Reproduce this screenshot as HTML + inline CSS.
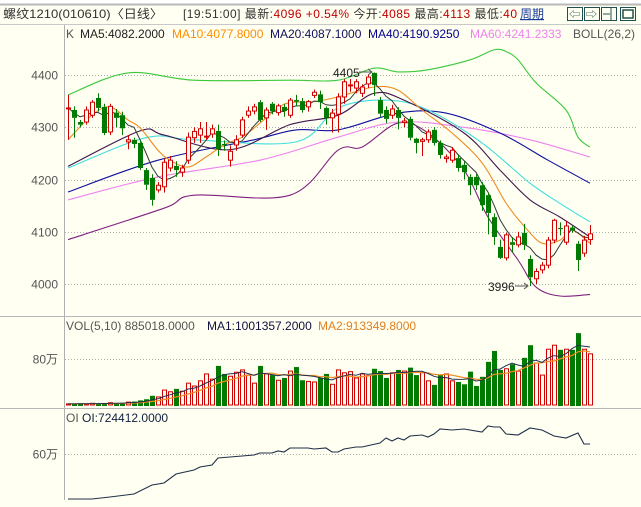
<!DOCTYPE html>
<html><head><meta charset="utf-8">
<style>
html,body{margin:0;padding:0;background:#fffff2;}
svg{display:block;font-family:"Liberation Sans","Noto Sans CJK SC",sans-serif;}
</style></head>
<body>
<svg id="chart" width="641" height="507" viewBox="0 0 641 507" xmlns="http://www.w3.org/2000/svg">
<rect x="0" y="0" width="641" height="507" fill="#fffff2"/>
<rect x="0" y="0" width="641" height="5" fill="#fff"/>
<line x1="0" y1="4.5" x2="641" y2="4.5" stroke="#b8b8b8" stroke-width="2"/>
<g font-size="12">
<text x="3" y="18" fill="#333" textLength="160" lengthAdjust="spacingAndGlyphs">螺纹1210(010610)〈日线〉</text>
<text x="183" y="18" fill="#333" textLength="334" lengthAdjust="spacing">[19:51:00] 最新:<tspan fill="#c00000">4096</tspan> <tspan fill="#c00000">+0.54%</tspan> 今开:<tspan fill="#c00000">4085</tspan> 最高:<tspan fill="#c00000">4113</tspan> 最低:<tspan fill="#c00000">40</tspan></text>
<text x="520" y="18" fill="#1a3a9a" text-decoration="underline">周期</text>
<g><rect x="567.5" y="7.5" width="15" height="13" fill="none" stroke="#205050"/><text x="569" y="18" font-size="11" fill="#205050">⇦</text></g>
<g><rect x="584.5" y="7.5" width="15" height="13" fill="none" stroke="#205050"/><text x="586" y="18" font-size="11" fill="#205050">⇨</text></g>
<g><rect x="601.5" y="7.5" width="15" height="13" fill="none" stroke="#205050"/><line x1="603" y1="14" x2="610" y2="14" stroke="#205050"/><line x1="611" y1="8" x2="611" y2="20" stroke="#205050"/></g>
<g><rect x="620.5" y="7.5" width="15" height="13" fill="none" stroke="#205050"/><rect x="623" y="10" width="10" height="8" fill="none" stroke="#205050" stroke-width="1.5"/></g>
</g>
<line x1="0" y1="24.5" x2="641" y2="24.5" stroke="#c8c8c8"/>
<line x1="64.5" y1="25" x2="64.5" y2="500" stroke="#b0b0b0"/>
<line x1="0" y1="316.5" x2="641" y2="316.5" stroke="#b8b8b8"/>
<line x1="0" y1="408.5" x2="641" y2="408.5" stroke="#b8b8b8"/>
<g font-size="12">
<text x="66" y="38" fill="#555">K</text>
<text x="80" y="38" fill="#222">MA5:4082.2000</text>
<text x="172" y="38" fill="#ff8c00">MA10:4077.8000</text>
<text x="270" y="38" fill="#101060">MA20:4087.1000</text>
<text x="368" y="38" fill="#00008b">MA40:4190.9250</text>
<text x="470" y="38" fill="#ee82ee">MA60:4241.2333</text>
<text x="573" y="38" fill="#555">BOLL(26,2)</text>
</g>
<g font-size="12">
<text x="66" y="330" fill="#555">VOL(5,10) 885018.0000</text>
<text x="207" y="330" fill="#101040">MA1:1001357.2000</text>
<text x="318" y="330" fill="#e08020">MA2:913349.8000</text>
</g>
<g font-size="12">
<text x="66" y="422" fill="#555">OI <tspan fill="#102040">OI:724412.0000</tspan></text>
</g>
<g id="grid"></g>
<g id="bands"></g>
<g id="candles"></g>
<g id="vol"></g>
<g id="oi"></g>
<g font-size="12" fill="#222">
<text x="333" y="77">4405</text>
<line x1="359" y1="72" x2="371" y2="72" stroke="#555"/><path d="M368,69 L372,72 L368,75" fill="none" stroke="#555"/>
<text x="488" y="291">3996</text>
<line x1="515" y1="286" x2="527" y2="286" stroke="#555"/><path d="M524,283 L528,286 L524,289" fill="none" stroke="#555"/>
</g>
</svg>
<script>
const opens  = [4337,4333,4310,4310,4323,4356,4339,4291,4328,4323,4272,4276,4270,4218,4203,4180,4186,4222,4226,4214,4237,4280,4285,4282,4287,4293,4268,4237,4266,4285,4323,4331,4348,4318,4345,4328,4339,4323,4352,4350,4339,4361,4363,4337,4318,4325,4358,4380,4375,4365,4383,4404,4352,4333,4323,4333,4309,4316,4278,4273,4276,4295,4270,4240,4237,4241,4228,4205,4205,4189,4170,4128,4071,4050,4080,4075,4098,4048,4010,4027,4036,4084,4107,4080,4108,4077,4059,4085];
const closes = [4337,4318,4305,4333,4348,4337,4289,4340,4318,4298,4276,4268,4222,4190,4161,4189,4233,4237,4218,4222,4281,4292,4297,4283,4297,4258,4266,4254,4276,4314,4331,4339,4314,4333,4331,4341,4331,4352,4349,4333,4349,4367,4348,4318,4327,4358,4387,4381,4387,4377,4396,4381,4326,4316,4335,4318,4312,4280,4270,4276,4291,4270,4247,4243,4256,4222,4214,4189,4189,4151,4136,4090,4050,4094,4075,4090,4075,4013,4024,4036,4084,4122,4106,4111,4103,4046,4084,4096];
const highs  = [4362,4340,4314,4340,4352,4365,4345,4345,4335,4330,4285,4280,4275,4222,4210,4195,4240,4245,4235,4228,4290,4300,4310,4310,4305,4305,4275,4265,4285,4320,4340,4345,4352,4338,4348,4345,4345,4356,4362,4356,4352,4372,4370,4340,4335,4365,4392,4392,4392,4382,4400,4405,4358,4340,4343,4338,4318,4320,4280,4280,4296,4300,4275,4248,4262,4248,4235,4210,4210,4195,4175,4135,4085,4098,4090,4100,4115,4055,4030,4042,4090,4125,4118,4120,4112,4082,4092,4113];
const lows   = [4276,4280,4300,4305,4318,4330,4285,4285,4300,4285,4258,4260,4218,4180,4150,4175,4175,4215,4205,4205,4230,4270,4270,4275,4280,4245,4255,4225,4255,4280,4318,4325,4310,4295,4325,4322,4320,4318,4340,4328,4330,4356,4335,4305,4290,4290,4345,4368,4365,4358,4375,4360,4320,4308,4316,4296,4300,4275,4250,4245,4270,4265,4240,4232,4232,4215,4200,4170,4180,4140,4095,4075,4048,4045,4060,4070,4065,3996,4000,4020,4030,4078,4093,4075,4098,4025,4052,4075];
const volumes = [2,2,3,2,3,2,3,4,3,4,5,6,8,10,16,14,26,23,28,24,38,33,42,54,45,68,54,50,57,61,52,38,68,54,52,43,47,59,66,43,41,40,47,54,36,61,56,58,47,54,51,63,59,47,56,61,59,65,52,56,42,35,52,54,42,40,36,58,33,49,75,94,61,63,71,59,82,104,73,52,97,104,96,97,96,125,97,89];
const ma10Pts = [[0,4276],[4,4323],[7,4339],[10,4314],[12,4299],[15,4256],[17,4237],[20,4224],[23,4243],[26,4266],[29,4281],[32,4308],[35,4337],[37,4347],[41,4349],[45,4358],[51,4377],[55,4371],[59,4333],[64,4289],[69,4232],[73,4155],[76,4111],[79,4078],[82,4084],[84,4103],[87,4078]];
const bollMidPts = [[0,4225],[12,4293],[16,4285],[27,4257],[37,4305],[45,4323],[51,4365],[56,4352],[66,4289],[72,4218],[77,4161],[82,4128],[87,4090]];
const ma20Pts = [[0,4222],[13,4280],[21,4276],[38,4272],[45,4337],[53,4352],[60,4333],[69,4270],[77,4193],[83,4147],[87,4119]];
const ma40Pts = [[0,4176],[15,4237],[31,4276],[38,4295],[45,4295],[55,4327],[63,4327],[72,4289],[80,4237],[87,4193]];
const ma60Pts = [[0,4161],[15,4205],[32,4237],[45,4281],[55,4310],[66,4300],[77,4276],[87,4243]];
const bollUpPts = [[0,4362],[10,4404],[21,4390],[37,4390],[45,4390],[51,4413],[55,4406],[60,4410],[67,4429],[71,4448],[73,4445],[75,4429],[78,4385],[83,4333],[85,4281],[87,4262]];
const bollLowPts = [[0,4085],[16,4145],[21,4170],[37,4170],[45,4256],[49,4262],[55,4308],[60,4289],[66,4218],[70,4128],[75,4046],[78,3994],[82,3977],[87,3980]];
const oiPts = [[0,4.0],[4,4.0],[7,6.5],[11,10.2],[14,21.4],[16,23.9],[18,35.1],[21,40.1],[22,43.8],[24,46.3],[25,55.0],[27,56.3],[31,58.8],[32,61.2],[34,61.2],[35,63.7],[36,62.5],[37,67.5],[40,67.5],[41,66.2],[43,67.5],[44,62.5],[45,62.5],[46,66.2],[48,68.7],[49,68.7],[52,73.7],[53,79.9],[54,76.2],[55,79.9],[56,77.4],[57,82.4],[59,83.6],[60,81.1],[61,84.9],[62,91.1],[64,89.9],[66,91.1],[69,87.4],[70,94.8],[71,93.6],[72,93.6],[73,84.9],[75,83.6],[77,92.3],[79,89.9],[81,82.4],[83,79.9],[85,86.1],[86,72.4],[87,72.4]];
const priceTicks = [4400,4300,4200,4100,4000];
const volTicks = [80];
const oiTicks = [60];

const NS = "http://www.w3.org/2000/svg";
const xAt = i => 68 + i * 6;
const yPrice = p => 75 + (4400 - p) * 0.5225;
const yVol = v => 405 - v * 0.575;
const yOI = v => 454 - (v - 60) * 0.804;
function mk(tag, attrs, parent){const e=document.createElementNS(NS,tag);for(const k in attrs)e.setAttribute(k,attrs[k]);parent.appendChild(e);return e;}

const grid = document.getElementById('grid');
priceTicks.forEach(t=>{
  const y = Math.round(yPrice(t))+0.5;
  const l = mk('line',{x1:65,y1:y,x2:636,y2:y,stroke:'#b0b0b0','stroke-dasharray':'1,2'},grid);
  
  
  const tx = mk('text',{x:58,y:y+4,'text-anchor':'end','font-size':12,fill:'#555'},grid);
  tx.textContent = t;
  
  
});
volTicks.forEach(t=>{
  const y = Math.round(yVol(t))+0.5;
  const l = mk('line',{x1:65,y1:y,x2:636,y2:y,stroke:'#b0b0b0','stroke-dasharray':'1,2'},grid);
  
  
  const tx = mk('text',{x:58,y:y+4,'text-anchor':'end','font-size':12,fill:'#555'},grid);
  tx.textContent = t + '万';
  
  
});
oiTicks.forEach(t=>{
  const y = Math.round(yOI(t))+0.5;
  const l = mk('line',{x1:65,y1:y,x2:636,y2:y,stroke:'#b0b0b0','stroke-dasharray':'1,2'},grid);
  
  
  const tx = mk('text',{x:58,y:y+4,'text-anchor':'end','font-size':12,fill:'#555'},grid);
  tx.textContent = t + '万';
  
  
});

function smoothPath(pts, yf){
  const P = pts.map(p=>[xAt(p[0]), yf(p[1])]);
  let d = 'M'+P[0][0].toFixed(1)+','+P[0][1].toFixed(1);
  for(let i=0;i<P.length-1;i++){
    const p0=P[Math.max(0,i-1)], p1=P[i], p2=P[i+1], p3=P[Math.min(P.length-1,i+2)];
    const c1x=p1[0]+(p2[0]-p0[0])/6, c1y=p1[1]+(p2[1]-p0[1])/6;
    const c2x=p2[0]-(p3[0]-p1[0])/6, c2y=p2[1]-(p3[1]-p1[1])/6;
    d+=' C'+c1x.toFixed(1)+','+c1y.toFixed(1)+' '+c2x.toFixed(1)+','+c2y.toFixed(1)+' '+p2[0].toFixed(1)+','+p2[1].toFixed(1);
  }
  return d;
}
function polyFromPts(pts, yf){return pts.map(p=>xAt(p[0]).toFixed(1)+','+yf(p[1]).toFixed(1)).join(' ');}
const bands = document.getElementById('bands');
const lineDefs = [
  [bollUpPts,'#3cc83c','boll-upper-line'],
  [bollLowPts,'#802080','boll-lower-line'],
  [ma60Pts,'#ee82ee','ma60-line'],
  [ma40Pts,'#1010a0','ma40-line'],
  [ma20Pts,'#40dede','ma20-line'],
  [bollMidPts,'#401850','boll-mid-line'],
  [ma10Pts,'#f08a20','ma10-line']
];
lineDefs.forEach(d=>{
  const pl = mk('path',{d:smoothPath(d[0],yPrice),fill:'none',stroke:d[1],'stroke-width':1.1},bands);
  
  
});
function movAvg(arr,n){return arr.map((v,i)=>{const s=Math.max(0,i-n+1);let t=0;for(let k=s;k<=i;k++)t+=arr[k];return t/(i-s+1);});}
const ma5 = movAvg(closes,5);
const ma5Line = mk('polyline',{points:ma5.map((v,i)=>xAt(i)+','+yPrice(v).toFixed(1)).join(' '),fill:'none',stroke:'#303838','stroke-width':1},bands);



const cg = document.getElementById('candles');
closes.forEach((c,i)=>{
  const o=opens[i], x=xAt(i);
  const up = c>=o;
  const col = up ? '#d00000' : '#007a00';
  const g = mk('g',{},cg);
  
  
  const yt = yPrice(Math.max(o,c)), yb = yPrice(Math.min(o,c));
  mk('line',{x1:x+0.5,y1:yPrice(highs[i]),x2:x+0.5,y2:yt,stroke:col},g);
  mk('line',{x1:x+0.5,y1:yb,x2:x+0.5,y2:yPrice(lows[i]),stroke:col},g);
  const h = Math.max(1,yb-yt);
  if(up) mk('rect',{x:x-1.5,y:yt,width:4,height:h,fill:'#fffff2',stroke:col,'stroke-width':1},g);
  else mk('rect',{x:x-2,y:yt,width:5,height:h,fill:col},g);
});

const vg = document.getElementById('vol');
volumes.forEach((v,i)=>{
  const x=xAt(i), up = closes[i]>=opens[i];
  const y=yVol(v);
  let r;
  if(up) r = mk('rect',{x:x-1.5,y:y,width:4,height:405-y,fill:'none',stroke:'#d00000'},vg);
  else r = mk('rect',{x:x-2,y:y,width:5,height:406-y,fill:'#007a00'},vg);
  
  
});
const vma5 = movAvg(volumes,5), vma10 = movAvg(volumes,10);
const vl2 = mk('polyline',{points:vma10.map((v,i)=>xAt(i)+','+yVol(v).toFixed(1)).join(' '),fill:'none',stroke:'#f08a20','stroke-width':1.2},vg);


const vl1 = mk('polyline',{points:vma5.map((v,i)=>xAt(i)+','+yVol(v).toFixed(1)).join(' '),fill:'none',stroke:'#203050','stroke-width':1},vg);



const og = document.getElementById('oi');
const oiLine = mk('polyline',{points:polyFromPts(oiPts,yOI),fill:'none',stroke:'#203048','stroke-width':1.1},og);


</script>
</body></html>
